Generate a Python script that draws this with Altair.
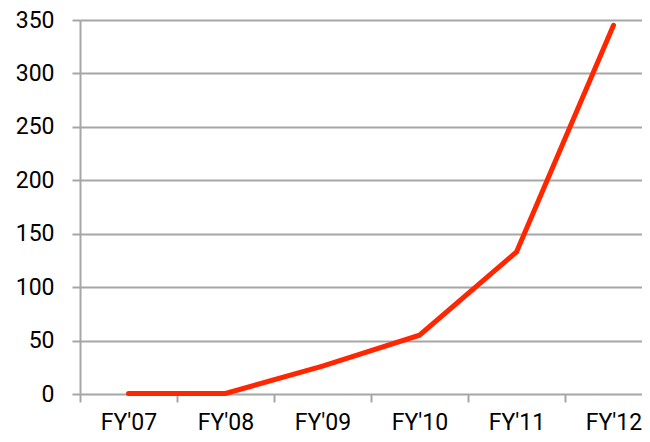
import altair as alt
import pandas as pd

years = ["FY'07", "FY'08", "FY'09", "FY'10", "FY'11", "FY'12"]
values = [0.5, 0.5, 26, 55, 133, 345]
y_ticks = [0, 50, 100, 150, 200, 250, 300, 350]

df = pd.DataFrame({
    "year": years,
    "pos": [i + 0.5 for i in range(len(years))],
    "value": values,
})

FONT = "Roboto"
BAND = 97
WIDTH = 562
label_expr = "[" + ",".join('"%s"' % y for y in years) + "][datum.value]"

chart = alt.Chart(df).mark_line(
    color="#FF2600", strokeWidth=5, strokeCap="round", strokeJoin="miter"
).encode(
    x=alt.X(
        "pos:Q",
        scale=alt.Scale(domain=[0, WIDTH / BAND], nice=False, zero=False),
        axis=alt.Axis(
            title=None, labelAngle=0, grid=False, domain=False,
            values=list(range(len(years))),
            labelExpr=label_expr, labelOffset=BAND / 2, labelAlign="center",
            labelFlush=False, labelOverlap=False,
            tickSize=8, tickColor="#A6A6A6", tickWidth=2,
            labelFont=FONT, labelFontSize=23, labelColor="#000000",
            labelPadding=9,
        ),
    ),
    y=alt.Y(
        "value:Q",
        scale=alt.Scale(domain=[0, 350], nice=False),
        axis=alt.Axis(
            title=None, values=y_ticks, grid=True, gridColor="#A6A6A6",
            gridWidth=2, domain=True, domainColor="#A6A6A6", domainWidth=2,
            tickSize=8, tickColor="#A6A6A6", tickWidth=2,
            labelFont=FONT, labelFontSize=23, labelColor="#000000",
            labelPadding=18,
        ),
    ),
).properties(
    width=WIDTH,
    height=374,
    autosize=alt.AutoSizeParams(type="none"),
    padding={"left": 72, "top": 12, "right": 0, "bottom": 40},
).configure_view(stroke=None)

chart.save("out.html", embed_options={"renderer": "svg", "actions": False})
